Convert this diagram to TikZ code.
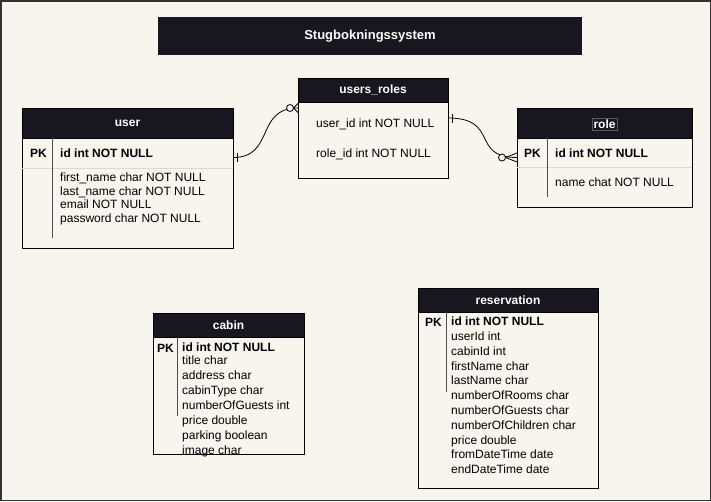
\documentclass[tikz,border=0pt]{standalone}
\usepackage{fontspec}
\setmainfont{Liberation Sans}
\definecolor{paper}{HTML}{F7F5EE}
\definecolor{ink}{HTML}{18161F}
\tikzset{
    tbox/.style={draw=black, fill=paper, inner sep=0pt},
    thead/.style={draw=black, fill=ink, text=white, font=\bfseries, inner sep=0pt},
    field/.style={anchor=west, inner sep=0pt, text height=8.6pt, text depth=0pt},
    fields/.style={anchor=north west, align=left, inner sep=0pt},
    divider/.style={draw=black!70, thick},
    rowrule/.style={draw=white!85!black, thin},
    rel/.style={draw=black, thick},
}
\begin{document}
\fontsize{12}{14}\selectfont
\begin{tikzpicture}[x=1pt, y=-1pt]
        \useasboundingbox (0,0) rectangle (711,501);
        \draw[fill=paper, draw=black!80, line width=1.5pt] (0.75,0.75) rectangle (710.25,500.25);

        % title
        \node[fill=ink, text=white, minimum width=424pt, minimum height=38pt,
              font=\bfseries\fontsize{13}{15}\selectfont] (title) at (370,36) {Stugbokningssystem};

        % user
        \node[tbox, minimum width=211pt, minimum height=140pt] (user) at (127.5,178) {};
        \node[thead, minimum width=211pt, minimum height=30pt] (userhead) at (127.5,123) {user};
        \draw[rowrule] (22,168) -- (233,168);
        \draw[divider] (52,138) -- (52,238);
        \node[field, font=\bfseries] (userpk) at (30,153) {PK};
        \node[field, font=\bfseries] (userid) at (60,153) {id int NOT NULL};
        \node[fields, font=\fontsize{12}{13.7}\selectfont] (userattr) at (60,172.5)
            {first\_name char NOT NULL\\last\_name char NOT NULL\\email NOT NULL\\password char NOT NULL};

        % users_roles
        \node[tbox, minimum width=150pt, minimum height=100pt] (ur) at (373,128) {};
        \node[thead, minimum width=150pt, minimum height=24pt] (urhead) at (373,90) {users\_roles};
        \node[field] (uruser) at (316,123) {user\_id int NOT NULL};
        \node[field] (urrole) at (316,153) {role\_id int NOT NULL};

        % role
        \node[tbox, minimum width=175pt, minimum height=99pt] (role) at (604.5,157.5) {};
        \node[thead, minimum width=175pt, minimum height=30pt] (rolehead) at (604.5,123) {};
        \node[draw=black!65, fill=ink, text=white, font=\bfseries, inner sep=1.5pt] (roletitle) at (604.5,124.5) {role};
        \draw[rowrule] (517,167) -- (692,167);
        \draw[divider] (547,138) -- (547,197);
        \node[field, font=\bfseries] (rolepk) at (524,153) {PK};
        \node[field, font=\bfseries] (roleid) at (555,153) {id int NOT NULL};
        \node[field] (rolename) at (555,182) {name chat NOT NULL};

        % cabin
        \node[tbox, minimum width=151pt, minimum height=141pt] (cabin) at (228.5,383.5) {};
        \node[thead, minimum width=151pt, minimum height=24pt] (cabinhead) at (228.5,325) {cabin};
        \draw[divider] (177,337) -- (177,416);
        \node[field, font=\bfseries] (cabinpk) at (157,348) {PK};
        \node[field, font=\bfseries] (cabinid) at (182,347) {id int NOT NULL};
        \node[fields, font=\fontsize{12}{15}\selectfont] (cabinattr) at (182,356)
            {title char\\address char\\cabinType char\\numberOfGuests int\\price double\\parking boolean\\image char};

        % reservation
        \node[tbox, minimum width=180pt, minimum height=200pt] (res) at (508,388) {};
        \node[thead, minimum width=180pt, minimum height=24pt] (reshead) at (508,300) {reservation};
        \draw[divider] (446,312) -- (446,392);
        \node[field, font=\bfseries] (respk) at (425,322) {PK};
        \node[field, font=\bfseries] (resid) at (451,321) {id int NOT NULL};
        \node[fields, font=\fontsize{12}{14.8}\selectfont] (resattr) at (451,331.5)
            {userId int\\cabinId int\\firstName char\\lastName char\\numberOfRooms char\\numberOfGuests char\\numberOfChildren char\\price double\\fromDateTime date\\endDateTime date};

        % relations
        \coordinate (userout) at (233,157.5);
        \coordinate (urin) at (298,108);
        \coordinate (urout) at (448,118);
        \coordinate (rolein) at (517,157.5);

        \draw[rel] (userout) .. controls (275,157.5) and (255,108) .. (urin);
        \draw[rel] (237,153) -- (237,162);
        \draw[rel, fill=paper] (290,108) circle (3.5pt);
        \draw[rel] (293.5,108) -- (298,103.5);
        \draw[rel] (293.5,108) -- (298,112.5);

        \draw[rel] (urout) .. controls (500,118) and (470,157.5) .. (rolein);
        \draw[rel] (452,113.5) -- (452,122.5);
        \draw[rel, fill=paper] (502,157.5) circle (3.5pt);
        \draw[rel] (505.5,157.5) -- (517,153);
        \draw[rel] (505.5,157.5) -- (517,162);

\end{tikzpicture}
\end{document}
